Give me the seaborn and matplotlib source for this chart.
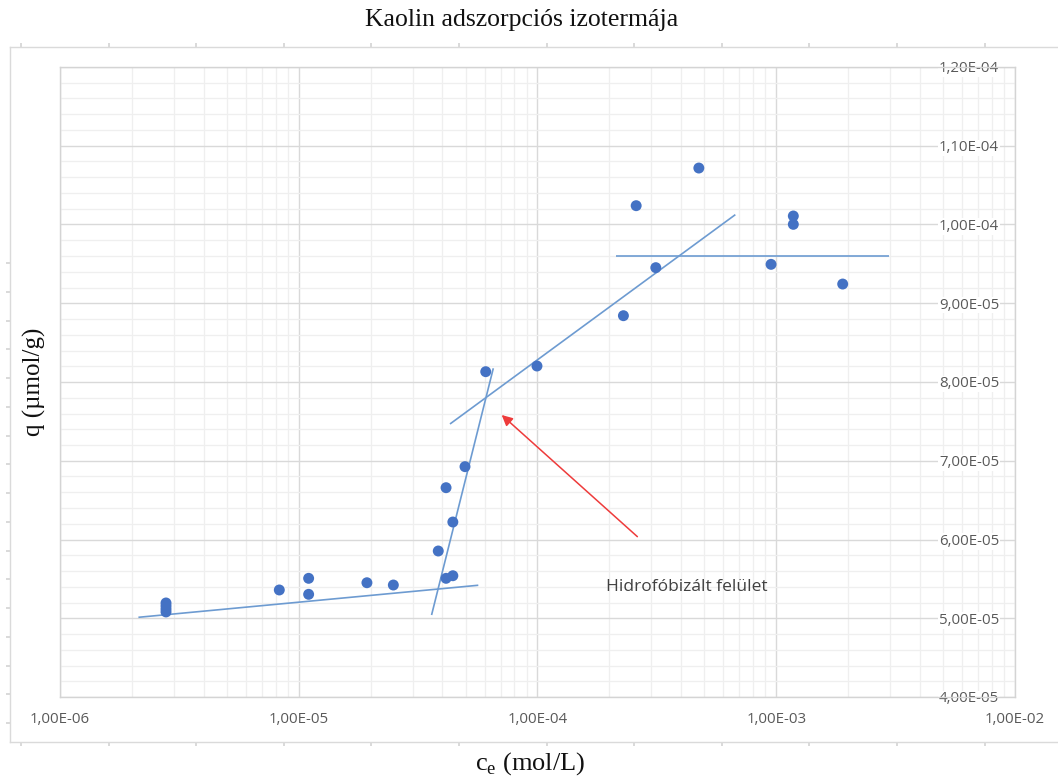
import numpy as np
import pandas as pd
import matplotlib
matplotlib.use("Agg")
import matplotlib.pyplot as plt
import matplotlib.ticker as mticker
import seaborn as sns

# ---------------- data ----------------
ce_values = [2.78e-06, 2.78e-06, 2.78e-06, 2.78e-06,
             8.29e-06, 1.10e-05, 1.10e-05, 1.93e-05, 2.49e-05,
             4.14e-05, 4.42e-05, 3.84e-05, 4.42e-05, 4.14e-05, 4.97e-05,
             6.07e-05, 9.95e-05,
             2.29e-04, 2.59e-04, 3.13e-04, 4.74e-04,
             9.51e-04, 1.179e-03, 1.179e-03, 1.898e-03]
q_values = [5.194e-05, 5.156e-05, 5.117e-05, 5.080e-05,
            5.359e-05, 5.507e-05, 5.304e-05, 5.451e-05, 5.422e-05,
            5.507e-05, 5.540e-05, 5.854e-05, 6.222e-05, 6.658e-05, 6.925e-05,
            8.131e-05, 8.203e-05,
            8.842e-05, 1.0239e-04, 9.452e-05, 1.0717e-04,
            9.494e-05, 1.0108e-04, 1.0002e-04, 9.244e-05]

# trend line segments (x pair, y pair)
line_low_x = [2.13e-06, 5.65e-05]
line_low_y = [5.012e-05, 5.419e-05]
line_steep_x = [3.60e-05, 6.53e-05]
line_steep_y = [5.041e-05, 8.174e-05]
line_mid_x = [4.30e-05, 6.74e-04]
line_mid_y = [7.467e-05, 1.0125e-04]
line_flat_x = [2.13e-04, 2.976e-03]
line_flat_y = [9.596e-05, 9.596e-05]

arrow_tail = (2.62e-04, 6.036e-05)
arrow_head = (7.08e-05, 7.581e-05)
annot_text = "Hidrofóbizált felület"
annot_pos = (1.94e-04, 5.397e-05)

x_ticks = [1e-06, 1e-05, 1e-04, 1e-03, 1e-02]
x_tick_labels = ["1,00E-06", "1,00E-05", "1,00E-04", "1,00E-03", "1,00E-02"]
y_ticks = [4e-05, 5e-05, 6e-05, 7e-05, 8e-05, 9e-05, 1.0e-04, 1.1e-04, 1.2e-04]
y_tick_labels = ["4,00E-05", "5,00E-05", "6,00E-05", "7,00E-05", "8,00E-05",
                 "9,00E-05", "1,00E-04", "1,10E-04", "1,20E-04"]

title_text = "Kaolin adszorpciós izotermája"
xlabel_text = r"c$_\mathregular{e}$ (mol/L)"
ylabel_text = "q (µmol/g)"

# ---------------- style ----------------
sns.set_theme(style="white")
plt.rcParams["font.family"] = ["Open Sans", "DejaVu Sans"]
plt.rcParams["mathtext.fontset"] = "custom"
plt.rcParams["mathtext.rm"] = "Liberation Serif"

W, H = 1058, 779
fig = plt.figure(figsize=(W / 100, H / 100), dpi=100)
fig.patch.set_facecolor("white")

def fx(px):
    return px / W

def fy(py):
    return 1 - py / H

# outer (background) chart frame
ax_bg = fig.add_axes([fx(10), fy(742), fx(W - 10) + 0.01, fy(47) - fy(742)], zorder=-1)
ax_bg.set_facecolor("none")
ax_bg.set_xlim(0, 1)
ax_bg.set_ylim(0, 1)
for s in ["left", "top", "bottom"]:
    ax_bg.spines[s].set_color("#dadada")
    ax_bg.spines[s].set_linewidth(1.0)
ax_bg.spines["right"].set_visible(False)
bx = [(p - 10) / (W - 10 + 10.58) for p in np.arange(21, W, 87.6)]
by = [(742 - p) / (742 - 47) for p in np.arange(263, 742, 28.75)]
ax_bg.set_xticks(bx)
ax_bg.set_yticks(by)
ax_bg.tick_params(axis="both", which="both", direction="out", length=3, color="#d5d5d5",
                  labelbottom=False, labelleft=False, top=True, bottom=True, left=True)

# main axes
ax = fig.add_axes([fx(60), fy(697), fx(1015) - fx(60), fy(67) - fy(697)])
ax.set_facecolor("white")
ax.set_xscale("log")
ax.set_xlim(1e-06, 1e-02)
ax.set_ylim(4e-05, 1.2e-04)

df = pd.DataFrame({"ce": ce_values, "q": q_values})
sns.scatterplot(data=df, x="ce", y="q", ax=ax, color="#4472C4", s=62,
                edgecolor="none", linewidth=0, zorder=4, legend=False)

line_color = "#6d9bd1"
for lx, ly in [(line_low_x, line_low_y), (line_steep_x, line_steep_y),
               (line_mid_x, line_mid_y), (line_flat_x, line_flat_y)]:
    ax.plot(lx, ly, color=line_color, lw=1.2, zorder=3, solid_capstyle="butt")

ax.annotate("", xy=arrow_head, xytext=arrow_tail,
            arrowprops=dict(arrowstyle="-|>", color="#ee3b3b", lw=1.1,
                            mutation_scale=16, shrinkA=0, shrinkB=0), zorder=5)
ax.text(annot_pos[0], annot_pos[1], annot_text, fontsize=12.5, color="#404040",
        ha="left", va="center", family=["Open Sans", "DejaVu Sans"], zorder=5)

# ticks
ax.set_xticks(x_ticks)
ax.set_xticklabels(x_tick_labels)
ax.xaxis.set_minor_locator(mticker.LogLocator(base=10, subs=np.arange(2, 10), numticks=20))
ax.xaxis.set_minor_formatter(mticker.NullFormatter())
ax.set_yticks(y_ticks)
ax.set_yticklabels(y_tick_labels)
ax.yaxis.set_minor_locator(mticker.MultipleLocator(2e-06))

ax.tick_params(axis="x", which="both", length=0, pad=11, labelsize=10.8, labelcolor="#595959")
ax.tick_params(axis="y", which="both", length=0, left=False, right=False,
               labelleft=False, labelright=True, pad=-11.5, labelsize=10.8, labelcolor="#595959")
for lab in ax.yaxis.get_majorticklabels():
    lab.set_horizontalalignment("right")
    lab.set_bbox(dict(facecolor="white", edgecolor="none", pad=0.5))

ax.grid(True, which="major", color="#d9d9d9", lw=1.0, zorder=0)
ax.grid(True, which="minor", color="#efefef", lw=0.9, zorder=0)
ax.set_axisbelow(True)
for s in ax.spines.values():
    s.set_color("#d4d4d4")
    s.set_linewidth(1.0)

ax.set_xlabel("")
ax.set_ylabel("")
fig.text(fx(522), fy(20), title_text, ha="center", va="center", fontsize=18.5,
         family=["Liberation Serif", "DejaVu Serif"], color="#111111")
fig.text(fx(530), fy(764), xlabel_text, ha="center", va="center", fontsize=19,
         family=["Liberation Serif", "DejaVu Serif"], color="#111111")
fig.text(fx(34), fy(382), ylabel_text, ha="center", va="center", fontsize=18,
         rotation=90, family=["Liberation Serif", "DejaVu Serif"], color="#111111")

fig.savefig("out.png", dpi=100, facecolor="white")
